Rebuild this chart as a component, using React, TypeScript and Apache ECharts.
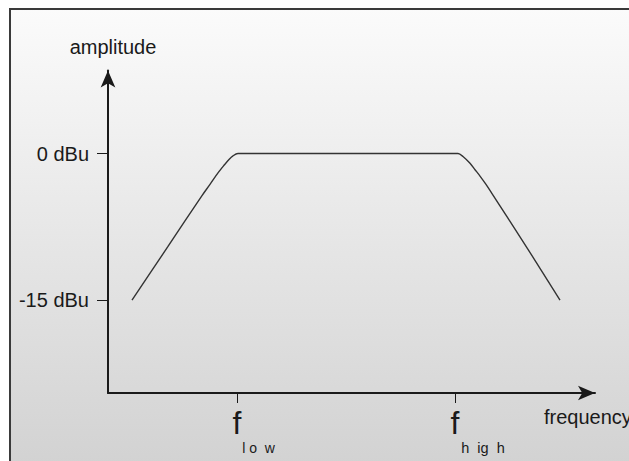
import React, { useEffect, useRef } from "react";
import * as echarts from "echarts";

// Frequency response (arbitrary frequency units along the axis, amplitude in dBu)
const FREQ_POINTS = [24, 60, 94, 102, 110, 116, 121, 125, 130, 140, 340, 350, 355, 362, 367, 372, 378, 384, 420, 452];
const AMP_POINTS = [-15, -9.5, -4.3, -3.15, -1.97, -1.2, -0.6, -0.23, 0, 0, 0, 0, -0.3, -1.0, -1.65, -2.3, -3.15, -4.1, -9.8, -15];

const X_TICKS = [129, 347];
const X_TICK_SUBS = ["l o\u00a0\u00a0w", "h\u00a0\u00a0ig\u00a0\u00a0h"];
const Y_TICKS = [0, -15];
const Y_TICK_LABELS = ["0 dBu", "-15 dBu"];

const FONT = "'Liberation Sans', Arial, Helvetica, sans-serif";
const INK = "#1a1a1a";

export default function App() {
  const ref = useRef<HTMLDivElement>(null);

  useEffect(() => {
    if (!ref.current) return;
    const chart = echarts.init(ref.current, null, { renderer: "svg" });
    const data = FREQ_POINTS.map((x, i) => [x, AMP_POINTS[i]]);
    const subStyles = ["low", "high"];

    chart.setOption({
      animation: false,
      backgroundColor: "#ffffff",
      graphic: [
        {
          type: "rect",
          z: -10,
          silent: true,
          shape: { x: 10, y: 9, width: 660, height: 480 },
          style: {
            fill: {
              type: "linear",
              x: 0,
              y: 0,
              x2: 0,
              y2: 1,
              colorStops: [
                { offset: 0, color: "#fbfbfb" },
                { offset: 1, color: "#d0d0d0" },
              ],
            },
            stroke: "#3a3a3a",
            lineWidth: 2,
          },
        },
      ],
      grid: {
        left: 108,
        top: 70.5,
        right: 34,
        bottom: 68,
        containLabel: false,
        outerBoundsMode: "none",
      },
      xAxis: {
        type: "value",
        min: 0,
        max: 487,
        name: "frequency",
        nameLocation: "end",
        nameGap: -51,
        nameTextStyle: {
          fontFamily: FONT,
          fontSize: 20,
          color: INK,
          align: "left",
          verticalAlign: "top",
          padding: [14, 0, 0, 0],
        },
        axisLine: {
          onZero: false,
          symbol: ["none", "arrow"],
          symbolSize: [11, 17],
          lineStyle: { color: INK, width: 2 },
        },
        axisTick: {
          show: true,
          customValues: X_TICKS,
          length: 10,
          lineStyle: { color: INK, width: 1 },
        },
        axisLabel: {
          customValues: X_TICKS,
          margin: 14,
          formatter: (v: number) => {
            const i = X_TICKS.indexOf(v);
            if (i < 0) return "";
            return "{f|f}\n{" + subStyles[i] + "|" + X_TICK_SUBS[i] + "}";
          },
          rich: {
            f: { fontFamily: FONT, fontSize: 32, lineHeight: 32, color: INK, align: "center" },
            low: {
              fontFamily: FONT,
              fontSize: 14,
              lineHeight: 17,
              color: INK,
              align: "center",
              padding: [0, 0, 0, 43],
            },
            high: {
              fontFamily: FONT,
              fontSize: 14.5,
              lineHeight: 17,
              color: INK,
              align: "center",
              padding: [0, 0, 0, 56],
            },
          },
        },
        splitLine: { show: false },
      },
      yAxis: {
        type: "value",
        min: -24.5,
        max: 8.5,
        name: "amplitude",
        nameLocation: "end",
        nameGap: 13.5,
        nameTextStyle: {
          fontFamily: FONT,
          fontSize: 20,
          color: INK,
          align: "center",
          padding: [0, 0, 0, 10],
        },
        axisLine: {
          onZero: false,
          symbol: ["none", "arrow"],
          symbolSize: [11, 17],
          lineStyle: { color: INK, width: 2 },
        },
        axisTick: {
          show: true,
          customValues: Y_TICKS,
          length: 11,
          lineStyle: { color: INK, width: 1 },
        },
        axisLabel: {
          customValues: Y_TICKS,
          margin: 19,
          fontFamily: FONT,
          fontSize: 20,
          color: INK,
          formatter: (v: number) => {
            const i = Y_TICKS.indexOf(v);
            return i < 0 ? "" : Y_TICK_LABELS[i];
          },
        },
        splitLine: { show: false },
      },
      series: [
        {
          type: "line",
          data,
          showSymbol: false,
          smooth: 0.3,
          lineStyle: { color: "#333333", width: 1.4 },
          silent: true,
        },
      ],
    });

    return () => chart.dispose();
  }, []);

  return (
    <div
      ref={ref}
      style={{ position: "fixed", left: 0, top: 0, width: 629, height: 461 }}
    />
  );
}
